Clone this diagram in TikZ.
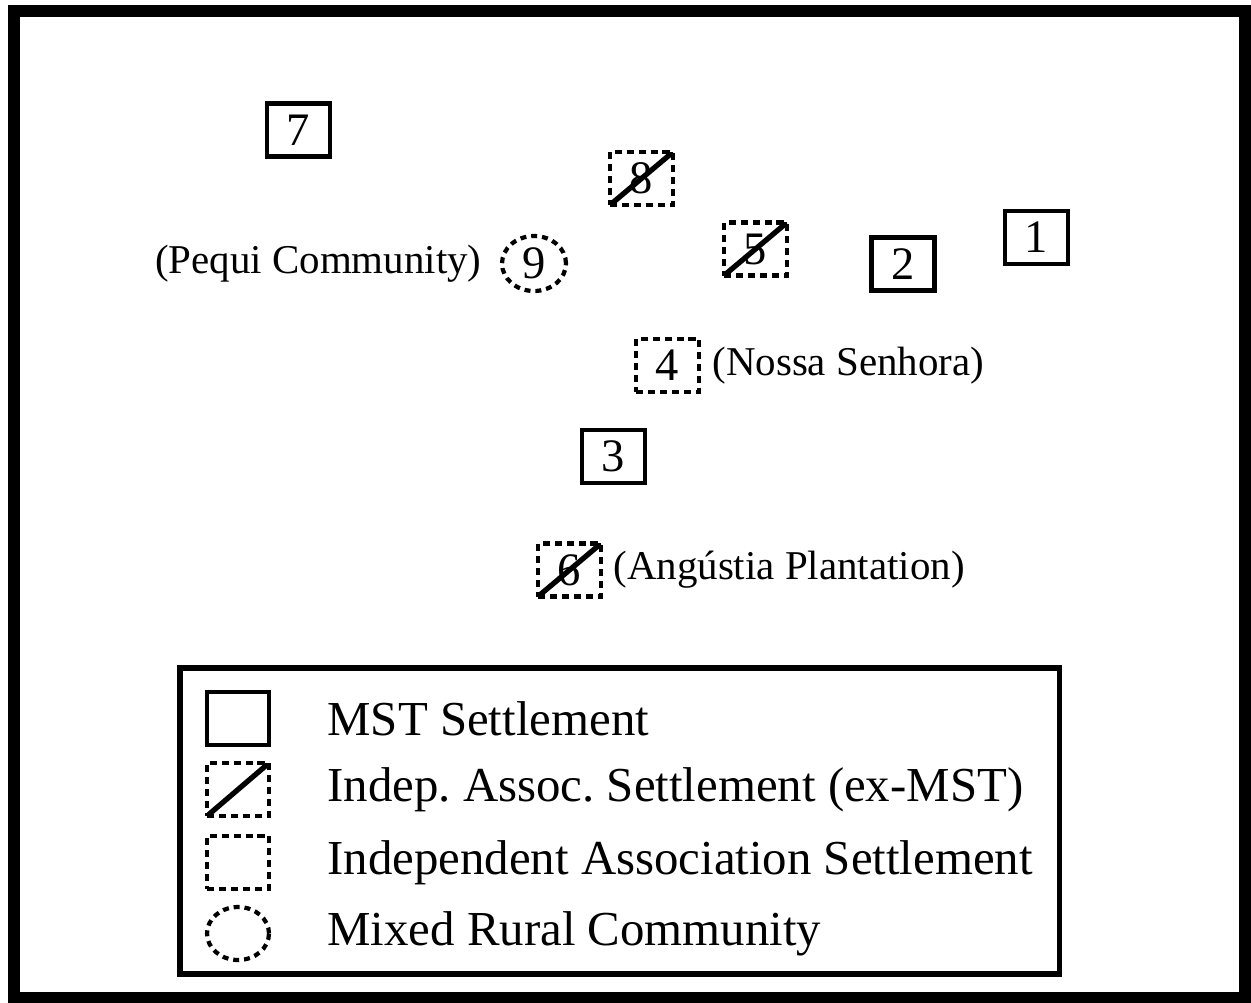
\documentclass[tikz,border=0pt]{standalone}
\usepackage{fontspec}
\setmainfont{Liberation Serif}
\usepackage{tikz}
\usetikzlibrary{shapes.geometric, positioning}
\frenchspacing
\tikzset{
  site/.style={rectangle, minimum width=1.26cm, minimum height=1.06cm,
    inner sep=0pt, line width=2.4pt, font=\fontsize{26.5}{30}\selectfont},
  mst/.style={site, draw},
  indep/.style={site, draw, dash pattern=on 4pt off 2.8pt},
  exmst/.style={indep, path picture={
    \draw[solid, line width=3pt] (path picture bounding box.south west)
      -- (path picture bounding box.north east);}},
  mixed/.style={site, ellipse, draw, dash pattern=on 3.4pt off 2.8pt,
    minimum width=1.28cm, minimum height=1.1cm},
  place/.style={inner sep=0pt, font=\fontsize{23.3}{28}\selectfont},
  key/.style={inner sep=0pt, anchor=west, font=\fontsize{27.8}{32}\selectfont},
}
\begin{document}
\begin{tikzpicture}[x=0.02cm, y=-0.02cm]
  \useasboundingbox (0,0) rectangle (1251,1002);
  \draw[line width=6.8pt] (14,11) rectangle (1245,998);
  % settlements
  \node[mst]   (s7) at (298.5,130)   {7};
  \node[exmst] (s8) at (641.5,178.5) {8};
  \node[exmst] (s5) at (755.5,249)   {5};
  \node[mst]   (s1) at (1036.5,237.5){1};
  \node[mst]   (s2) at (903,264)     {2};
  \node[mixed] (s9) at (534,263.5)   {9};
  \node[indep] (s4) at (667.5,365.5) {4};
  \node[mst]   (s3) at (613.5,456.5) {3};
  \node[exmst] (s6) at (569.5,570)   {6};
  \node[place, left=0.36cm of s9]  {(Pequi Community)};
  \node[place, right=0.22cm of s4] {(Nossa Senhora)};
  \node[place, right=0.2cm of s6]  {(Angústia Plantation)};
  % legend
  \draw[line width=3.4pt] (180,668) rectangle (1059.5,973.5);
  \node[mst, minimum width=1.24cm]   (k1) at (238,718.5) {};
  \node[exmst, minimum width=1.24cm] (k2) at (238,789.5) {};
  \node[indep, minimum width=1.24cm] (k3) at (238,862.5) {};
  \node[mixed, minimum width=1.24cm, minimum height=1.06cm] (k4) at (238,933.5) {};
  \node[key, right=1.12cm of k1] {MST Settlement};
  \node[key, right=1.12cm of k2] {Indep. Assoc. Settlement (ex-MST)};
  \node[key, right=1.12cm of k3] {Independent Association Settlement};
  \node[key, right=1.12cm of k4] {Mixed Rural Community};
\end{tikzpicture}
\end{document}
